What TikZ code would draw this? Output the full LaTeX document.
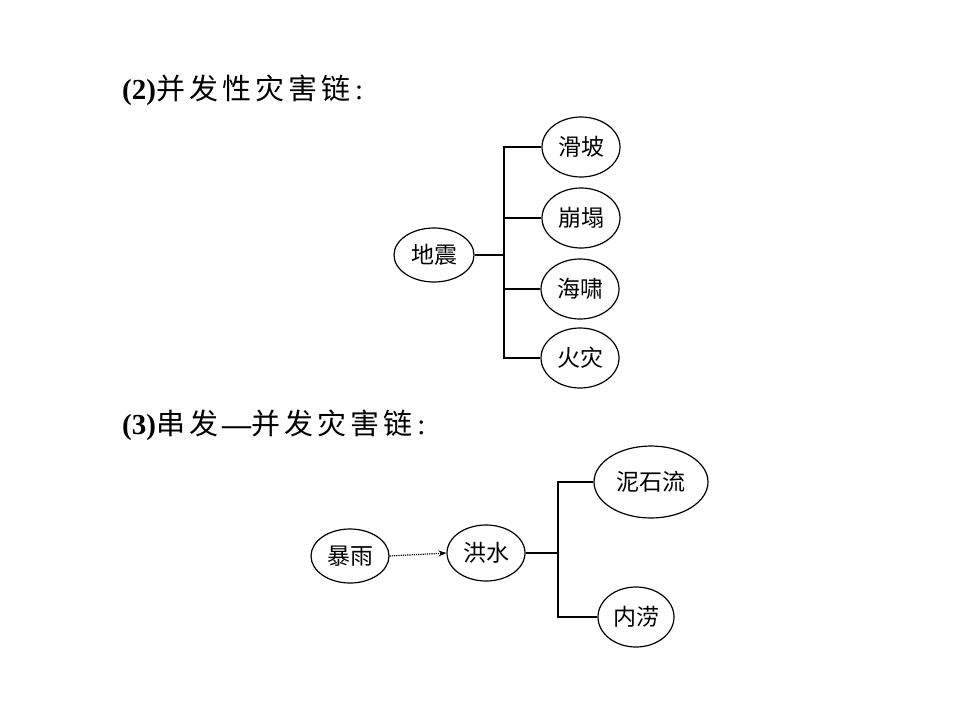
\documentclass[tikz,border=0pt]{standalone}
\usepackage{fontspec}
\setmainfont{Liberation Serif}
\newfontfamily\cjk{Noto Sans CJK SC}
\newfontfamily\cjkt[LetterSpace=14]{Noto Sans CJK SC}
\usetikzlibrary{arrows.meta,shapes.geometric}
\begin{document}
\begin{tikzpicture}[x=1pt,y=-1pt,
  bub/.style={draw,line width=1.2pt,ellipse,inner sep=0pt,font=\cjk\fontsize{23}{23}\selectfont},
  conn/.style={line width=1.3pt},
  ttl/.style={anchor=west,inner sep=0pt,font=\fontsize{29}{29}\selectfont}]
\useasboundingbox[fill=white] (0,0) rectangle (960,720);
\node[ttl] (t2) at (122,90) {\textbf{(2)}{\cjkt 并发性灾害链}\,:};
\node[bub,minimum width=80,minimum height=54] (dz) at (434,255) {地震};
\node[bub,minimum width=78,minimum height=60] (hp) at (581,147) {滑坡};
\node[bub,minimum width=78,minimum height=60] (bt) at (581,218) {崩塌};
\node[bub,minimum width=78,minimum height=60] (hx) at (580,289) {海啸};
\node[bub,minimum width=78,minimum height=60] (hz) at (580,358) {火灾};
\coordinate (j1) at (504,255);
\draw[conn] (dz.east) -- (j1);
\draw[conn] (hp.west) -- (504,147) -- (504,358) -- (hz.west);
\draw[conn] (bt.west) -- (504,218);
\draw[conn] (hx.west) -- (504,289);
\node[ttl] (t3) at (122,425) {\textbf{(3)}{\cjkt 串发}\textbf{—}{\cjkt 并发灾害链}\,:};
\node[bub,minimum width=78,minimum height=54] (by) at (350,556) {暴雨};
\node[bub,minimum width=78,minimum height=56] (hs) at (486,553) {洪水};
\node[bub,minimum width=114,minimum height=72] (nsl) at (651,482) {泥石流};
\node[bub,minimum width=76,minimum height=60] (nl) at (636,617) {内涝};
\draw[line width=1.2pt,densely dotted,-{Stealth[length=8pt,width=6pt]}] (by.east) -- (hs.west);
\draw[conn] (hs.east) -- (558,553);
\draw[conn] (nsl.west) -- (558,482) -- (558,617) -- (nl.west);
\end{tikzpicture}
\end{document}
